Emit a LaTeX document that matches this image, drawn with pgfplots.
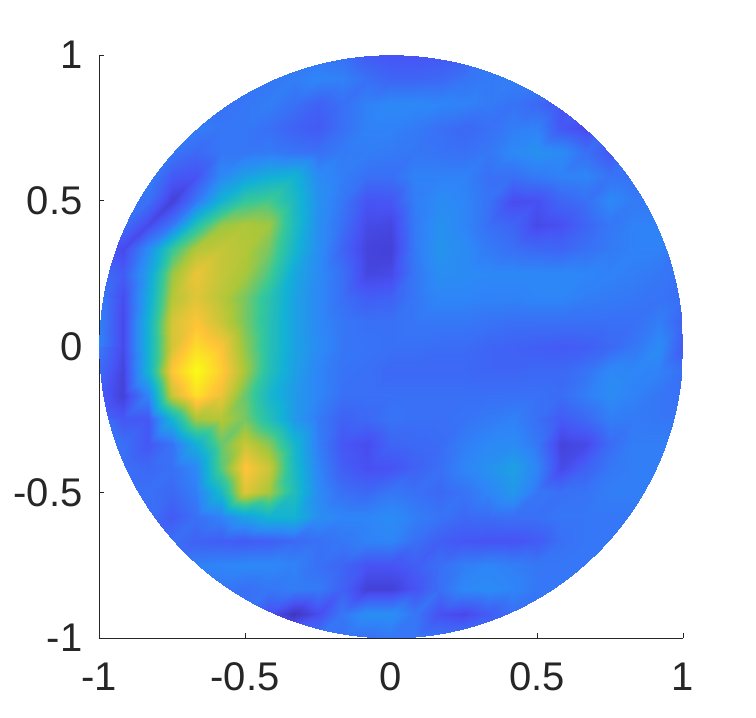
\documentclass[border=0pt]{standalone}
\usepackage{pgfplots}
\pgfplotsset{compat=1.18}
\usepackage{fontspec}
\setmainfont{Liberation Sans}
\definecolor{axisgray}{rgb}{0.15,0.15,0.15}
\pgfplotsset{
  colormap={parula}{
    rgb=(0.2422,0.1504,0.6603)
    rgb=(0.2810,0.3228,0.9579)
    rgb=(0.1786,0.5289,0.9682)
    rgb=(0.0689,0.6948,0.8394)
    rgb=(0.2161,0.7843,0.5923)
    rgb=(0.6720,0.7793,0.2227)
    rgb=(0.9970,0.7659,0.2199)
    rgb=(0.9769,0.9839,0.0805)
  }
}
\begin{document}
\begin{tikzpicture}[x=1pt,y=1pt]
\useasboundingbox (-99,-80) rectangle (657,638);
\begin{axis}[
    at={(0,0)},
    anchor=south west,
    scale only axis,
    width=584pt,
    height=583pt,
    xmin=-1, xmax=1,
    ymin=-1, ymax=1,
    axis lines=left,
    axis line style={-,color=axisgray,line width=0.8pt},
    tick style={color=axisgray,line width=0.8pt},
    tick align=inside,
    major tick length=5pt,
    xtick={-1,-0.5,0,0.5,1},
    ytick={-1,-0.5,0,0.5,1},
    tick label style={font=\fontsize{40}{44}\selectfont,color=axisgray},
    xticklabel style={yshift=-21pt},
    yticklabel style={xshift=-13pt},
    /pgf/number format/assume math mode=true,
    colormap name=parula,
    point meta min=-0.03,
    point meta max=1,
]
\clip (axis cs:0,0) circle [radius=1];
% one value per grid node, x from -1 to 1 in 25 steps, rows from y=1 down to y=-1
\addplot[surf, shader=interp, mesh/cols=25, mesh/ordering=x varies, point meta=\thisrowno{0}]
  table[row sep=\\, header=false,
        x expr={mod(\coordindex,25)/12-1},
        y expr={1-floor(\coordindex/25)/12}] {
.22\\.22\\.22\\.22\\.22\\.22\\.22\\.22\\.22\\.22\\.20\\.14\\.12\\.12\\.13\\.15\\.22\\.22\\.22\\.22\\.22\\.22\\.22\\.22\\.22\\
.22\\.22\\.22\\.22\\.22\\.22\\.22\\.22\\.24\\.26\\.25\\.20\\.17\\.17\\.18\\.21\\.23\\.24\\.24\\.24\\.24\\.24\\.24\\.24\\.24\\
.22\\.22\\.22\\.22\\.22\\.20\\.22\\.24\\.20\\.16\\.20\\.25\\.27\\.27\\.26\\.25\\.23\\.21\\.18\\.12\\.16\\.20\\.22\\.22\\.22\\
.24\\.24\\.24\\.26\\.24\\.22\\.22\\.20\\.16\\.14\\.20\\.25\\.25\\.23\\.20\\.18\\.20\\.24\\.25\\.13\\.09\\.17\\.22\\.22\\.22\\
.24\\.24\\.24\\.22\\.18\\.22\\.22\\.23\\.21\\.20\\.23\\.24\\.23\\.22\\.21\\.20\\.22\\.27\\.30\\.28\\.20\\.13\\.20\\.22\\.22\\
.24\\.24\\.25\\.14\\.12\\.27\\.35\\.40\\.42\\.28\\.24\\.20\\.20\\.25\\.25\\.25\\.20\\.20\\.23\\.25\\.26\\.21\\.20\\.20\\.20\\
.20\\.20\\.20\\.06\\.22\\.42\\.55\\.58\\.46\\.30\\.22\\.12\\.13\\.24\\.28\\.26\\.21\\.10\\.11\\.17\\.20\\.27\\.23\\.22\\.22\\
.22\\.20\\.09\\.22\\.50\\.68\\.71\\.69\\.47\\.29\\.20\\.09\\.08\\.23\\.30\\.26\\.20\\.17\\.09\\.11\\.17\\.22\\.25\\.25\\.25\\
.20\\.09\\.28\\.55\\.72\\.75\\.72\\.64\\.44\\.29\\.17\\.07\\.06\\.23\\.31\\.28\\.23\\.20\\.18\\.17\\.20\\.23\\.25\\.25\\.20\\
.20\\.14\\.35\\.68\\.82\\.75\\.70\\.58\\.38\\.28\\.20\\.08\\.09\\.22\\.29\\.28\\.27\\.27\\.27\\.27\\.26\\.25\\.24\\.22\\.20\\
.22\\.10\\.38\\.72\\.80\\.73\\.64\\.51\\.36\\.27\\.20\\.15\\.16\\.22\\.26\\.26\\.25\\.25\\.26\\.26\\.24\\.23\\.22\\.21\\.19\\
.25\\.09\\.42\\.78\\.85\\.76\\.64\\.50\\.36\\.27\\.22\\.20\\.20\\.22\\.22\\.22\\.21\\.20\\.20\\.20\\.20\\.20\\.20\\.24\\.16\\
.25\\.09\\.42\\.78\\.92\\.85\\.67\\.50\\.36\\.28\\.22\\.21\\.20\\.20\\.19\\.19\\.17\\.16\\.15\\.14\\.15\\.18\\.22\\.28\\.14\\
.22\\.07\\.42\\.86\\1.0\\.88\\.70\\.49\\.35\\.26\\.21\\.20\\.18\\.18\\.18\\.18\\.17\\.17\\.18\\.18\\.21\\.27\\.26\\.25\\.20\\
.15\\.06\\.26\\.76\\.93\\.82\\.62\\.44\\.33\\.26\\.20\\.20\\.20\\.20\\.20\\.20\\.20\\.20\\.20\\.19\\.24\\.28\\.25\\.22\\.20\\
.18\\.13\\.13\\.42\\.70\\.72\\.64\\.49\\.33\\.23\\.16\\.18\\.21\\.20\\.20\\.21\\.23\\.25\\.20\\.14\\.18\\.24\\.23\\.22\\.22\\
.22\\.20\\.13\\.21\\.40\\.62\\.76\\.66\\.44\\.24\\.13\\.10\\.17\\.18\\.19\\.24\\.27\\.28\\.22\\.07\\.09\\.19\\.24\\.24\\.24\\
.20\\.20\\.18\\.20\\.27\\.60\\.86\\.76\\.46\\.26\\.15\\.11\\.12\\.16\\.20\\.26\\.30\\.35\\.26\\.09\\.16\\.22\\.24\\.24\\.24\\
.20\\.20\\.20\\.18\\.24\\.45\\.80\\.70\\.48\\.28\\.20\\.18\\.22\\.20\\.18\\.21\\.26\\.32\\.22\\.20\\.21\\.24\\.24\\.24\\.24\\
.20\\.20\\.20\\.14\\.20\\.25\\.35\\.42\\.42\\.29\\.26\\.26\\.28\\.24\\.21\\.18\\.19\\.20\\.20\\.22\\.22\\.22\\.22\\.22\\.22\\
.20\\.20\\.20\\.20\\.16\\.15\\.14\\.15\\.18\\.20\\.22\\.25\\.26\\.20\\.15\\.13\\.12\\.12\\.14\\.20\\.22\\.22\\.22\\.22\\.22\\
.22\\.22\\.22\\.22\\.25\\.26\\.27\\.27\\.25\\.20\\.17\\.12\\.12\\.15\\.20\\.24\\.26\\.24\\.22\\.22\\.22\\.22\\.22\\.22\\.22\\
.22\\.22\\.22\\.22\\.22\\.22\\.20\\.22\\.24\\.23\\.16\\.06\\.06\\.12\\.20\\.27\\.28\\.26\\.22\\.22\\.22\\.22\\.22\\.22\\.22\\
.22\\.22\\.22\\.22\\.22\\.22\\.20\\.11\\.02\\.10\\.22\\.29\\.29\\.22\\.11\\.09\\.14\\.20\\.22\\.22\\.22\\.22\\.22\\.22\\.22\\
.22\\.22\\.22\\.22\\.22\\.22\\.22\\.22\\.22\\.22\\.20\\.20\\.22\\.22\\.22\\.22\\.22\\.22\\.22\\.22\\.22\\.22\\.22\\.22\\.22\\
};
\end{axis}
\end{tikzpicture}
\end{document}
